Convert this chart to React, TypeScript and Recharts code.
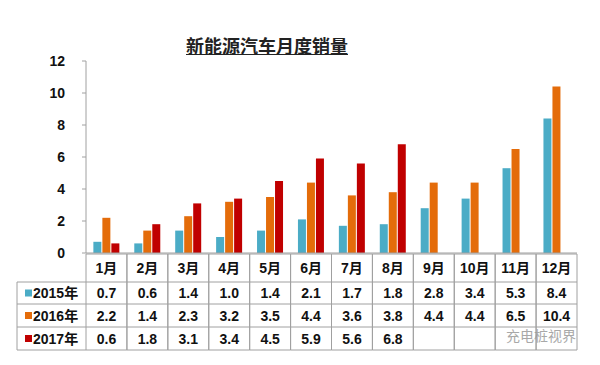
import React from 'react';
import { BarChart, Bar, XAxis, YAxis } from 'recharts';

const MONTHS = ['1月', '2月', '3月', '4月', '5月', '6月', '7月', '8月', '9月', '10月', '11月', '12月'];
const SERIES_NAMES = ['2015年', '2016年', '2017年'];
const S2015 = [0.7, 0.6, 1.4, 1.0, 1.4, 2.1, 1.7, 1.8, 2.8, 3.4, 5.3, 8.4];
const S2016 = [2.2, 1.4, 2.3, 3.2, 3.5, 4.4, 3.6, 3.8, 4.4, 4.4, 6.5, 10.4];
const S2017: (number | null)[] = [0.6, 1.8, 3.1, 3.4, 4.5, 5.9, 5.6, 6.8, null, null, null, null];
const Y_TICKS = [0, 2, 4, 6, 8, 10, 12];
const TITLE = '新能源汽车月度销量';
const WATERMARK = '充电桩视界';

const KEYS = ['y2015', 'y2016', 'y2017'];
const VALUES = [S2015, S2016, S2017];
const COLORS = ['#4bacc6', '#e46c0a', '#c00000'];

const data = MONTHS.map((m, i) => ({ month: m, y2015: S2015[i], y2016: S2016[i], y2017: S2017[i] }));

const FONT = "Arial, 'Liberation Sans', 'Noto Sans CJK SC', sans-serif";
const GRID = '#a0a0a0';
const W = 600;
const H = 365;
const MARGIN = { top: 61, right: 23, bottom: 12, left: 46 };
const Y_W = 40;
const PLOT_W = W - MARGIN.left - MARGIN.right - Y_W;
const ROW_LINES = [1, 29, 51, 74, 97];
const LABEL_COL_W = 69;

const TableTick = (props: any) => {
  const { x, y, payload } = props;
  const idx = MONTHS.indexOf(payload.value);
  const col = PLOT_W / MONTHS.length;
  const left = x - col / 2;
  const right = x + col / 2;
  const textProps = { fontFamily: FONT, fontSize: 14, fontWeight: 700, fill: '#111', textAnchor: 'middle' as const, dominantBaseline: 'central' as const };
  const els: any[] = [];
  // header + value rows borders
  els.push(<line key="l" x1={left} x2={left} y1={y + ROW_LINES[0]} y2={y + ROW_LINES[4]} stroke={GRID} />);
  els.push(<line key="r" x1={right} x2={right} y1={y + ROW_LINES[0]} y2={y + ROW_LINES[4]} stroke={GRID} />);
  ROW_LINES.forEach((o, k) => {
    els.push(<line key={'h' + k} x1={left} x2={right} y1={y + o} y2={y + o} stroke={GRID} />);
  });
  els.push(<text key="m" x={x} y={y + (ROW_LINES[0] + ROW_LINES[1]) / 2} {...textProps}>{payload.value}</text>);
  VALUES.forEach((vals, s) => {
    const v = vals[idx];
    if (v == null) return;
    els.push(
      <text key={'v' + s} x={x} y={y + (ROW_LINES[s + 1] + ROW_LINES[s + 2]) / 2} {...textProps}>
        {v.toFixed(1)}
      </text>
    );
  });
  if (idx === 0) {
    const l0 = left - LABEL_COL_W;
    els.push(<line key="ll" x1={l0} x2={l0} y1={y + ROW_LINES[1]} y2={y + ROW_LINES[4]} stroke={GRID} />);
    for (let k = 1; k < ROW_LINES.length; k++) {
      els.push(<line key={'lh' + k} x1={l0} x2={left} y1={y + ROW_LINES[k]} y2={y + ROW_LINES[k]} stroke={GRID} />);
    }
    SERIES_NAMES.forEach((n, s) => {
      const cy = y + (ROW_LINES[s + 1] + ROW_LINES[s + 2]) / 2;
      els.push(<rect key={'sq' + s} x={l0 + 8} y={cy - 3.5} width={7} height={7} fill={COLORS[s]} />);
      els.push(
        <text key={'n' + s} x={l0 + 16} y={cy} fontFamily={FONT} fontSize={14} fontWeight={700} fill="#111" dominantBaseline="central">
          {n}
        </text>
      );
    });
  }
  return <g>{els}</g>;
};

export default function App() {
  return (
    <div style={{ position: 'absolute', left: 0, top: 0, width: W, height: H, background: '#fff' }}>
      <BarChart width={W} height={H} data={data} margin={MARGIN} barCategoryGap="18%" barGap={1}>
        <YAxis
          width={Y_W}
          domain={[0, 12]}
          ticks={Y_TICKS}
          interval={0}
          axisLine={{ stroke: GRID }}
          tickLine={{ stroke: GRID }}
          tickSize={4}
          tickMargin={17}
          tick={{ fontFamily: FONT, fontSize: 14, fontWeight: 700, fill: '#111' }}
        />
        <XAxis
          dataKey="month"
          height={100}
          interval={0}
          axisLine={{ stroke: GRID }}
          tickLine={false}
          tickSize={0}
          tickMargin={0}
          tick={<TableTick />}
        />
        {KEYS.map((k, s) => (
          <Bar key={k} dataKey={k} fill={COLORS[s]} isAnimationActive={false} />
        ))}
      </BarChart>
      <div
        style={{
          position: 'absolute',
          left: 0,
          width: 534,
          top: 35,
          textAlign: 'center',
          fontFamily: "'Noto Sans CJK SC', sans-serif",
          fontWeight: 700,
          fontSize: 18,
          lineHeight: '20px',
          color: '#222',
          textDecoration: 'underline',
        }}
      >
        {TITLE}
      </div>
      <div
        style={{
          position: 'absolute',
          left: 506,
          top: 326,
          fontFamily: "'Noto Sans CJK SC', sans-serif",
          fontSize: 14,
          lineHeight: '18px',
          color: '#9a9a9a',
          opacity: 0.85,
        }}
      >
        {WATERMARK}
      </div>
    </div>
  );
}
